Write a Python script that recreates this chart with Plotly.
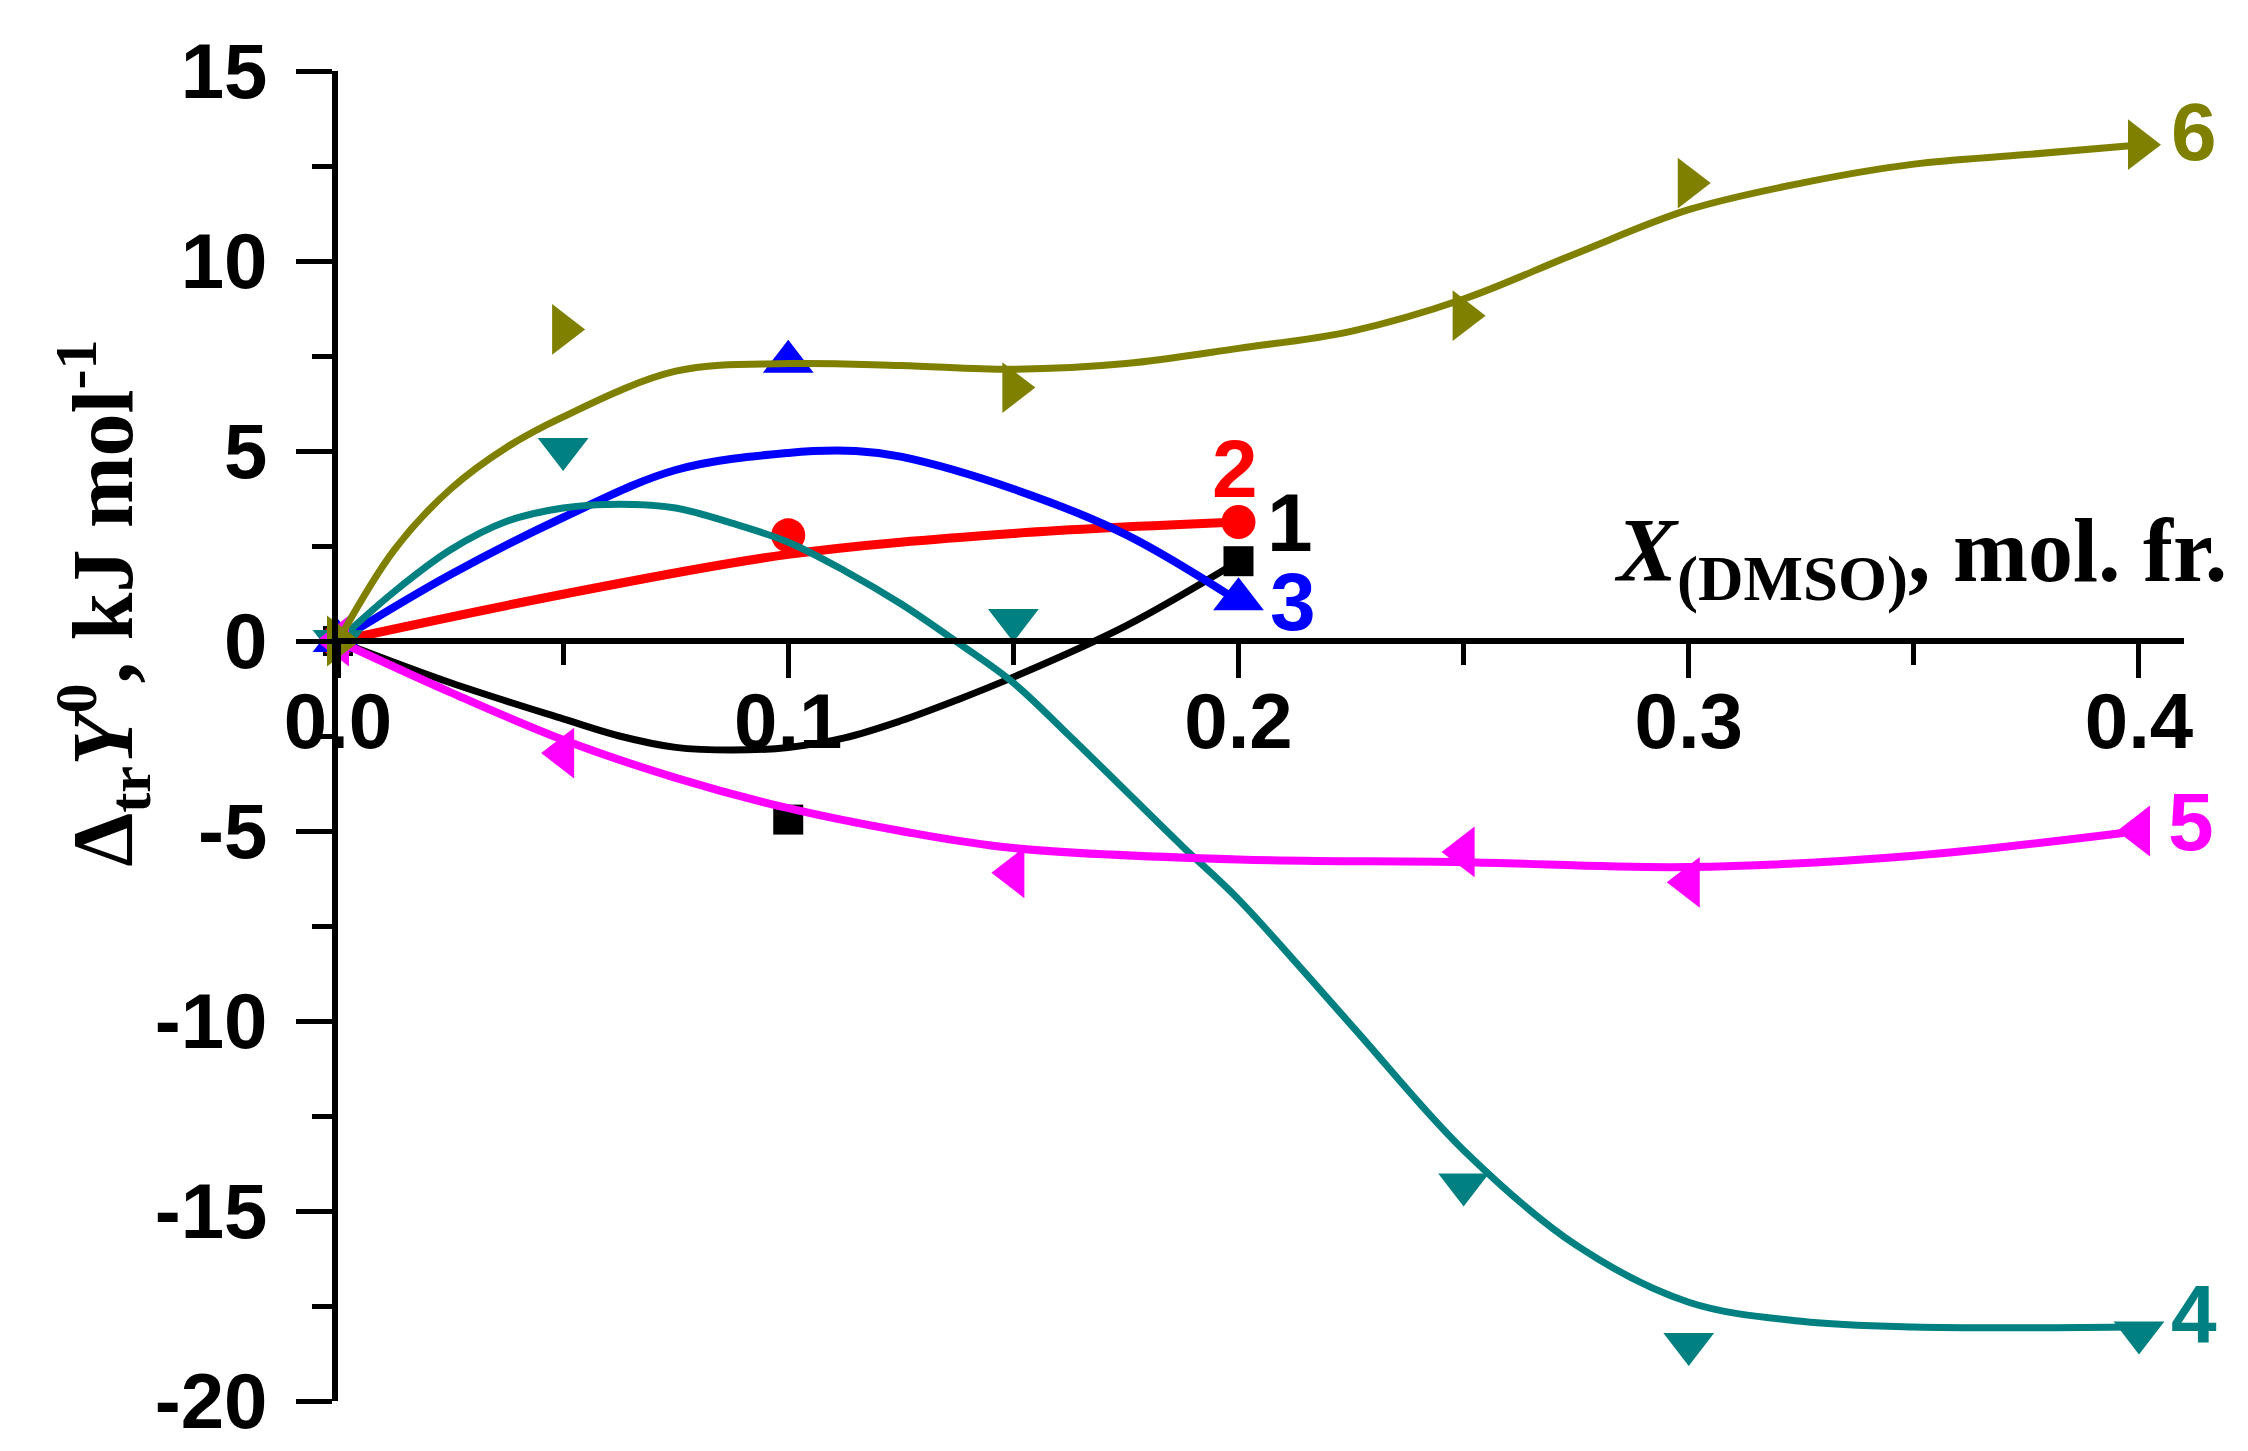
import plotly.graph_objects as go

# measured points (markers)
x1 = [0, 0.1, 0.2]
y1 = [0, -4.7, 2.1]
x2 = [0, 0.1, 0.2]
y2 = [0, 2.78, 3.13]
x3 = [0, 0.1, 0.2]
y3 = [0, 7.35, 1.1]
x4 = [0, 0.05, 0.15, 0.25, 0.3, 0.4]
y4 = [0, 5.05, 0.55, -14.3, -18.5, -18.2]
x5 = [0, 0.05, 0.15, 0.25, 0.3, 0.4]
y5 = [0, -2.95, -6.1, -5.55, -6.35, -5.0]
x6 = [0, 0.05, 0.15, 0.25, 0.3, 0.4]
y6 = [0, 8.2, 6.67, 8.56, 12.05, 13.06]

# fitted curves
cx1 = [0, 0.025, 0.05, 0.0625, 0.075, 0.0875, 0.1, 0.1125, 0.125, 0.1375, 0.15, 0.175, 0.2]
cy1 = [0, -1.1, -2.05, -2.5, -2.8, -2.87, -2.8, -2.55, -2.1, -1.55, -0.95, 0.4, 2.1]
cx2 = [0, 0.05, 0.1, 0.15, 0.2]
cy2 = [0, 1.23, 2.28, 2.83, 3.13]
cx3 = [0, 0.025, 0.05, 0.075, 0.1, 0.115, 0.125, 0.15, 0.175, 0.2]
cy3 = [0, 1.75, 3.25, 4.5, 4.95, 5.0, 4.85, 4.0, 2.8, 1.05]
cx4 = [0, 0.0125, 0.025, 0.0375, 0.05, 0.0625, 0.075, 0.0875, 0.1, 0.1125, 0.125, 0.1375, 0.15, 0.1625,
       0.175, 0.1875, 0.2, 0.225, 0.25, 0.275, 0.3, 0.325, 0.35, 0.4]
cy4 = [0, 1.3, 2.4, 3.15, 3.5, 3.6, 3.5, 3.1, 2.6, 1.85, 0.98, -0.03, -1.1, -2.5,
       -3.95, -5.4, -6.8, -10.1, -13.4, -15.9, -17.4, -17.9, -18.05, -18.05]
cx5 = [0, 0.025, 0.05, 0.075, 0.1, 0.125, 0.15, 0.2, 0.25, 0.3, 0.35, 0.4]
cy5 = [0, -1.35, -2.6, -3.6, -4.4, -5.0, -5.45, -5.75, -5.82, -5.95, -5.65, -5.0]
cx6 = [0, 0.0125, 0.025, 0.0375, 0.05, 0.075, 0.1, 0.125, 0.15, 0.175, 0.2, 0.225, 0.25, 0.275, 0.3, 0.325, 0.35, 0.375, 0.4]
cy6 = [0, 2.4, 4.0, 5.1, 5.9, 7.1, 7.3, 7.25, 7.15, 7.3, 7.7, 8.15, 9.0, 10.2, 11.35, 12.05, 12.55, 12.8, 13.05]

labels = ['1', '2', '3', '4', '5', '6']
label_x = [0.2115, 0.1993, 0.212, 0.4123, 0.4115, 0.4123]
label_y = [3.13, 4.55, 1.03, -17.7, -4.74, 13.4]

y_ticks = [-20, -15, -10, -5, 0, 5, 10, 15]
y_ticktext = ['-20', '-15', '-10', '-5', '0', '5', '10', '15']
x_ticks = [0, 0.1, 0.2, 0.3, 0.4]
x_ticktext = ['0.0', '0.1', '0.2', '0.3', '0.4']

x_max = 0.41

colors = ['#000000', '#FF0000', '#0000FF', '#008080', '#FF00FF', '#808000']
symbols = ['square', 'circle', 'triangle-up', 'triangle-down', 'triangle-left', 'triangle-right']
msizes = [30, 34, 44, 44, 44, 44]
lwidths = [7, 9, 8, 7, 8, 7]

series = [(x1, y1, cx1, cy1), (x2, y2, cx2, cy2), (x3, y3, cx3, cy3),
          (x4, y4, cx4, cy4), (x5, y5, cx5, cy5), (x6, y6, cx6, cy6)]

fig = go.Figure()

for i, (mx, my, lx, ly) in enumerate(series):
    fig.add_trace(go.Scatter(
        x=lx, y=ly, mode='lines',
        line=dict(color=colors[i], width=lwidths[i], shape='spline', smoothing=1.0),
        cliponaxis=False, showlegend=False
    ))
    fig.add_trace(go.Scatter(
        x=mx, y=my, mode='markers',
        marker=dict(symbol=symbols[i], size=msizes[i], color=colors[i], line=dict(width=0)),
        cliponaxis=False, showlegend=False
    ))

# curve numbers (paper x so the ones past the axis end stay visible)
for i, t in enumerate(labels):
    fig.add_annotation(
        x=label_x[i] / x_max, xref='paper', y=label_y[i], yref='y',
        text=t, showarrow=False,
        xanchor='center', yanchor='middle',
        font=dict(family='Liberation Sans', size=82, color=colors[i], weight='bold')
    )

fig.add_annotation(
    x=1.0244, xref='paper', y=2.2, yref='y',
    text='<i>X</i><sub>(DMSO)</sub>, mol. fr.', showarrow=False,
    xanchor='right', yanchor='middle',
    font=dict(family='Liberation Serif', size=90, color='black', weight='bold')
)

fig.add_annotation(
    x=-0.128, xref='paper', y=0.6, yref='paper',
    text='Δ<sub>tr</sub><i>Y</i><sup>0</sup>, kJ mol<sup>-1</sup>',
    showarrow=False,
    textangle=-90, xanchor='center', yanchor='middle',
    font=dict(family='Liberation Serif', size=86, color='black', weight='bold')
)

tick_font = dict(family='Liberation Sans', size=78, color='black', weight='bold')

fig.update_layout(
    width=2248, height=1451,
    margin=dict(l=330, r=72, t=63, b=58),
    plot_bgcolor='white', paper_bgcolor='white',
    xaxis=dict(
        range=[0, x_max], anchor='free', position=20 / 35,
        showline=True, linecolor='black', linewidth=6,
        showgrid=False, zeroline=False,
        tickvals=x_ticks, ticktext=x_ticktext,
        ticks='outside', ticklen=34, tickwidth=5, tickcolor='black',
        minor=dict(tickvals=[0.05, 0.15, 0.25, 0.35], ticks='outside', ticklen=21, tickwidth=5, tickcolor='black'),
        tickfont=tick_font, ticklabelstandoff=-24,
    ),
    yaxis=dict(
        range=[-20, 15],
        showline=True, linecolor='black', linewidth=6,
        showgrid=False, zeroline=False,
        tickvals=y_ticks, ticktext=y_ticktext,
        ticks='outside', ticklen=36, tickwidth=5, tickcolor='black',
        minor=dict(dtick=2.5, ticks='outside', ticklen=20, tickwidth=5, tickcolor='black'),
        tickfont=tick_font, ticklabelstandoff=13,
    ),
)

fig.write_html("out.html")
